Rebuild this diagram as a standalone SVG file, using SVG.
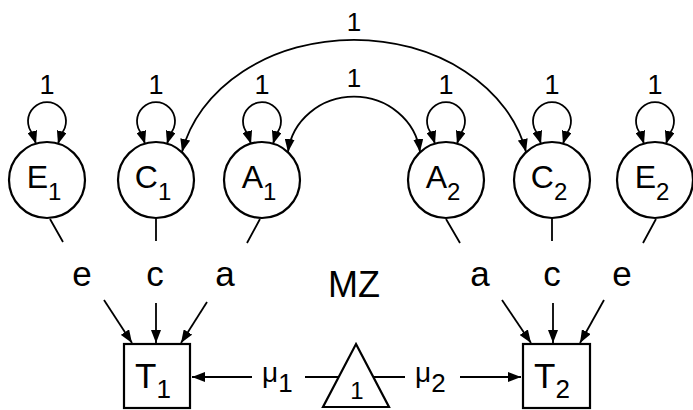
<svg xmlns="http://www.w3.org/2000/svg" width="693" height="410" viewBox="0 0 693 410">
<defs>
<marker id="ah" viewBox="0 0 13 10" refX="13" refY="5" markerWidth="13" markerHeight="10" markerUnits="userSpaceOnUse" orient="auto-start-reverse"><path d="M0,0 L13,5 L0,10 z" fill="#000"/></marker>
<style>
.n{fill:#fff;stroke:#000;stroke-width:2.2}
.c{fill:none;stroke:#000;stroke-width:1.8}
.a{marker-end:url(#ah)}
.b{marker-start:url(#ah);marker-end:url(#ah)}
text{font-family:"Liberation Sans",Arial,sans-serif;fill:#000}
.lt{font-size:32px;text-anchor:middle}
.sb{font-size:24px}
.one{font-size:27px;text-anchor:middle}
.lab{font-size:35px;text-anchor:middle}
</style>
</defs>
<rect width="693" height="410" fill="#fff"/>
<g id="connectors">
<path class="c b" d="M36 144 L33 134 A19 19 0 1 1 61 134 L58 144"/>
<path class="c b" d="M145 144 L142 134 A19 19 0 1 1 170 134 L167 144"/>
<path class="c b" d="M251 144 L248 134 A19 19 0 1 1 276 134 L273 144"/>
<path class="c b" d="M435 144 L432 134 A19 19 0 1 1 460 134 L457 144"/>
<path class="c b" d="M541 144 L538 134 A19 19 0 1 1 566 134 L563 144"/>
<path class="c b" d="M644 144 L641 134 A19 19 0 1 1 669 134 L666 144"/>
<path class="c b" d="M182 152 A175.5 140 0 0 1 526 152"/>
<path class="c b" d="M288 152 A66.5 63 0 0 1 420 152"/>
<path class="c" d="M50 219 L63 242 M156 218 L156 241 M260 219 L247 243 M446 219 L460 243 M552 218 L552 241 M656 219 L643 243"/>
<path class="c a" d="M104 300 L132 343"/>
<path class="c a" d="M156 303 L156 343"/>
<path class="c a" d="M207 302 L181 343"/>
<path class="c a" d="M502 300 L531 343"/>
<path class="c a" d="M553 303 L553 343"/>
<path class="c a" d="M604 300 L580 343"/>
<path class="c a" d="M252 377 L192 377"/>
<path class="c" d="M305 377 L339 377 M373 377 L405 377"/>
<path class="c a" d="M460 377 L521 377"/>
<text class="one" x="47" y="94">1</text>
<text class="one" x="156" y="94">1</text>
<text class="one" x="262" y="94">1</text>
<text class="one" x="446" y="94">1</text>
<text class="one" x="552" y="94">1</text>
<text class="one" x="655" y="94">1</text>
<text class="one" x="354" y="31" style="font-size:26px">1</text>
<text class="one" x="354" y="87" style="font-size:26px">1</text>
<text class="lab" x="82" y="286">e</text>
<text class="lab" x="155" y="286">c</text>
<text class="lab" x="225" y="286">a</text>
<text class="lab" x="480" y="286">a</text>
<text class="lab" x="552" y="286">c</text>
<text class="lab" x="622" y="286">e</text>
<text x="262" y="382" style="font-size:28px">μ<tspan dy="10" style="font-size:26px">1</tspan></text>
<text x="415" y="382" style="font-size:28px">μ<tspan dy="10" style="font-size:26px">2</tspan></text>
</g>
<g id="E1"><circle class="n" cx="47" cy="180" r="38"/><text class="lt" x="44" y="188">E<tspan class="sb" dy="12">1</tspan></text></g>
<g id="C1"><circle class="n" cx="156" cy="180" r="38"/><text class="lt" x="153" y="188">C<tspan class="sb" dy="12">1</tspan></text></g>
<g id="A1"><circle class="n" cx="262" cy="180" r="38"/><text class="lt" x="259" y="188">A<tspan class="sb" dy="12">1</tspan></text></g>
<g id="A2"><circle class="n" cx="446" cy="180" r="38"/><text class="lt" x="443" y="188">A<tspan class="sb" dy="12">2</tspan></text></g>
<g id="C2"><circle class="n" cx="552" cy="180" r="38"/><text class="lt" x="549" y="188">C<tspan class="sb" dy="12">2</tspan></text></g>
<g id="E2"><circle class="n" cx="655" cy="180" r="38"/><text class="lt" x="652" y="188">E<tspan class="sb" dy="12">2</tspan></text></g>
<g id="T1"><rect class="n" x="124" y="344" width="66" height="64"/><text x="153" y="388" style="font-size:35px;text-anchor:middle">T<tspan dy="10" style="font-size:26px">1</tspan></text></g>
<g id="T2"><rect class="n" x="523" y="344" width="67" height="64"/><text x="552" y="388" style="font-size:35px;text-anchor:middle">T<tspan dy="10" style="font-size:26px">2</tspan></text></g>
<g id="one"><path class="n" d="M356 344 L389 407 L323 407 Z"/><text x="357" y="399" style="font-size:24px;text-anchor:middle">1</text></g>
<g id="MZ"><text x="354" y="297" style="font-size:36px;text-anchor:middle">MZ</text></g>
</svg>
